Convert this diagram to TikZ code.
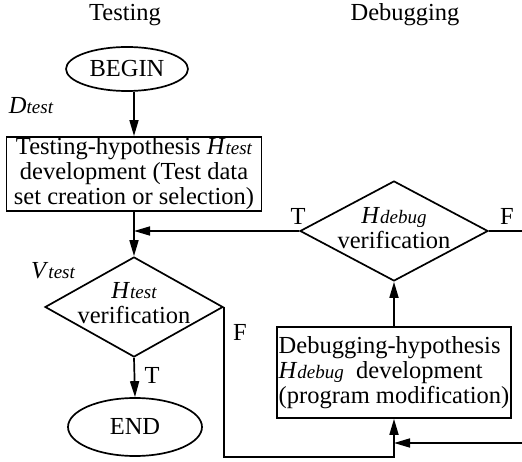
\documentclass[tikz,border=0pt]{standalone}
\usepackage{fontspec}
\setmainfont{Liberation Serif}
\usetikzlibrary{shapes.geometric,arrows.meta}
\newcommand{\smit}[1]{{\fontsize{19}{19}\selectfont\itshape #1}}
\newcommand{\hyp}[2]{\textit{#1}\smit{#2}}
\begin{document}
\begin{tikzpicture}[x=1pt,y=-1pt,
  every node/.style={font=\fontsize{24.5}{25}\selectfont},
  line/.style={line width=1.7pt},
  arr/.style={line width=1.7pt,-{Triangle[length=16pt,width=9pt]}},
  term/.style={draw,ellipse,line width=1.7pt,inner sep=0pt},
  procbox/.style={draw,rectangle,line width=1.7pt,inner sep=1pt},
  decision/.style={draw,diamond,line width=1.7pt,inner sep=0pt},
  lbl/.style={inner sep=0pt}]
\useasboundingbox (0,0) rectangle (522,462);

\node[lbl] (ttest) at (125,15) {Testing};
\node[lbl] (tdebug) at (405,15) {Debugging};

\node[term, minimum width=122pt, minimum height=44pt] (begin) at (127,69) {BEGIN};
\node[lbl] (dtest) at (31,106) {\hyp{D}{test}};

\node[procbox, minimum width=255pt, minimum height=74pt, align=center] (tb) at (134,174)
  {Testing-hypothesis \hyp{H}{test}\\ development (Test data\\ set creation or selection)};

\node[decision, minimum width=178pt, minimum height=100pt] (vt) at (134,307) {};
\node[lbl, align=center] (vttext) at (134,303) {\hyp{H}{test}\\ verification};
\node[lbl] (vtest) at (53,271) {\hyp{V}{test}};

\node[term, minimum width=134pt, minimum height=58pt] (end) at (135,427) {END};

\node[procbox, minimum width=234pt, minimum height=91pt, align=left] (db) at (394,372.5)
  {Debugging-hypothesis\\ \hyp{H}{debug}\ \ development\\ (program modification)};

\node[decision, minimum width=188pt, minimum height=100pt] (hd) at (394,231) {};
\node[lbl, align=center] (hdtext) at (394,228) {\hyp{H}{debug}\\ verification};

\coordinate (fcorner) at (223,457);
\coordinate (loopin) at (522,443);
\coordinate (loopout) at (522,231);

\draw[arr] (begin.south -| tb.north) -- (tb.north);
\draw[arr] (tb.south) -- (vt.north);
\draw[arr] (vt.south) -- (end.north);
\node[lbl] (tlab1) at (152,375) {T};
\draw[arr] (vt.east) -- (vt.east |- fcorner) -| (db.south);
\node[lbl] (flab1) at (240,332) {F};
\draw[arr] (loopin) -- (db.south |- loopin);
\draw[arr] (db.north) -- (hd.south);
\draw[arr] (hd.west) -- (hd.west -| tb.south);
\node[lbl] (tlab2) at (298,216) {T};
\draw[line] (hd.east) -- (loopout);
\node[lbl] (flab2) at (507,216) {F};
\end{tikzpicture}
\end{document}
